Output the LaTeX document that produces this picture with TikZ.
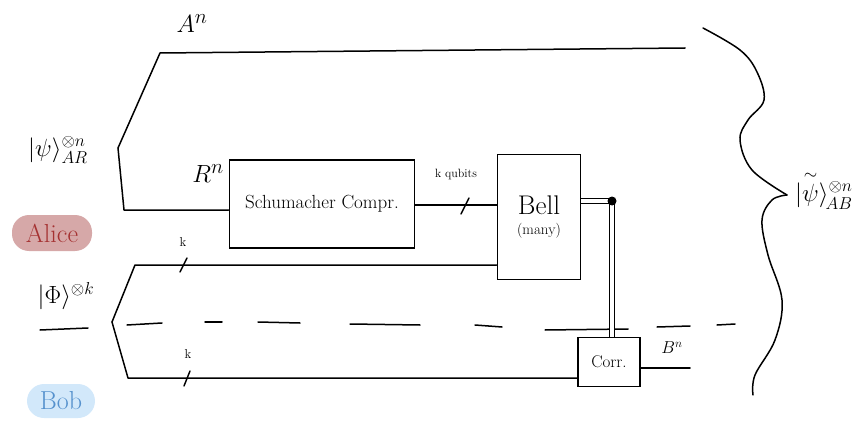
\documentclass[tikz,border=0pt]{standalone}
\usepackage{amsmath,amssymb}
\usetikzlibrary{calc}
\definecolor{alicefill}{RGB}{214,168,168}
\definecolor{alicetext}{RGB}{165,50,50}
\definecolor{bobfill}{RGB}{210,232,250}
\definecolor{bobtext}{RGB}{85,145,205}
\tikzset{
  wire/.style={line width=1.5pt, line cap=round, line join=round},
  gatebox/.style={draw, line width=1.6pt, inner sep=0pt, align=center},
  cwire/.style={line width=1.4pt, double, double distance=4pt},
  pill/.style={rounded corners=17pt, inner xsep=10pt, inner ysep=4pt},
  lbl/.style={inner sep=1pt},
  slash/.style={line width=1.4pt, line cap=round}
}
\newcommand{\fsz}[1]{\fontsize{#1}{#1}\selectfont}
\begin{document}
\begin{tikzpicture}[x=1pt,y=-1pt]
\useasboundingbox (0,0) rectangle (867,425);

% boxes
\node[gatebox, minimum width=185pt, minimum height=88pt] (schu) at (322,204) {\fsz{19}Schumacher Compr.};
\node[gatebox, minimum width=83pt, minimum height=125pt] (bell) at (539,217) {\fsz{27}Bell\\[8pt] \fsz{15}(many)};
\node[gatebox, minimum width=62pt, minimum height=49pt] (corr) at (609,362) {\fsz{17}Corr.};

% coordinates
\coordinate (split) at (118,148);
\coordinate (atop) at (160,53);
\coordinate (aend) at (685,48);
\coordinate (rcorner) at (124,210);
\coordinate (phil) at (112,322);
\coordinate (phiu) at (135,265);
\coordinate (phid) at (128,378);
\coordinate (dot) at (612,201);
\coordinate (bnend) at (690,368);

% A^n and R^n wires
\draw[wire] (split) -- (atop) -- (aend);
\draw[wire] (split) -- (rcorner) -- (rcorner -| schu.west);
\node[lbl] (an) at (192,24) {\fsz{28}$A^n$};
\node[lbl] (rn) at (208,174) {\fsz{30}$R^n$};

% k qubits wire
\draw[wire] (schu.east |- 0,205) -- (bell.west |- 0,205);
\draw[slash] (461,214) -- (469,198);
\node[lbl] (kq) at (456,174) {\fsz{12}k qubits};

% Phi wires
\draw[wire] (phil) -- (phiu) -- (phiu -| bell.west);
\draw[wire] (phil) -- (phid) -- (phid -| corr.west);
\draw[slash] (180,272) -- (187,258);
\draw[slash] (184,386) -- (190,371);
\node[lbl] (k1) at (183,242) {\fsz{13}k};
\node[lbl] (k2) at (188,354) {\fsz{13}k};

% dashed separator (irregular hand-drawn dashes)
\draw[wire] (127,325) -- (162,323);
\draw[wire] (205,322) -- (222,322);
\draw[wire] (258,322) -- (300,323);
\draw[wire] (350,324) -- (420,325);
\draw[wire] (475,325) -- (502,327);
\draw[wire] (545,330) -- (628,329);
\draw[wire] (657,327) -- (690,326);
\draw[wire] (717,325) -- (735,324);

% classical wires
\draw[cwire] (bell.east |- dot) -- (dot);
\draw[cwire] (dot) -- (dot |- corr.north);
\fill (dot) circle (4.5pt);

% B^n
\draw[wire] (corr.east |- bnend) -- (bnend);
\node[lbl] (bn) at (672,348) {\fsz{18}$B^n$};

% left labels
\node[lbl] (psi) at (58,150) {\fsz{27}$|\psi\rangle^{\otimes n}_{AR}$};
\node[pill, fill=alicefill, text=alicetext, minimum width=80pt, minimum height=36pt] (alice) at (52,233) {\fsz{26}Alice};
\node[lbl] (phi) at (66,296) {\fsz{24}$|\Phi\rangle^{\otimes k}$};
\draw[wire] (40,330) -- (88,328);
\node[pill, fill=bobfill, text=bobtext, minimum width=68pt, minimum height=34pt] (bob) at (61,401) {\fsz{26}Bob};

% right brace
\draw[wire] plot[smooth, tension=0.6] coordinates {(703,28) (740,50) (757,72) (764,100) (748,120) (740,140) (752,170) (787,195)};
\draw[wire] plot[smooth, tension=0.6] coordinates {(787,195) (772,200) (762,220) (768,255) (782,300) (775,340) (755,375) (753,395)};
\node[lbl, anchor=west] (psit) at (794,190) {\fsz{25}$|\overset{\sim}{\psi}\rangle^{\otimes n}_{\!AB}$};
\end{tikzpicture}
\end{document}
